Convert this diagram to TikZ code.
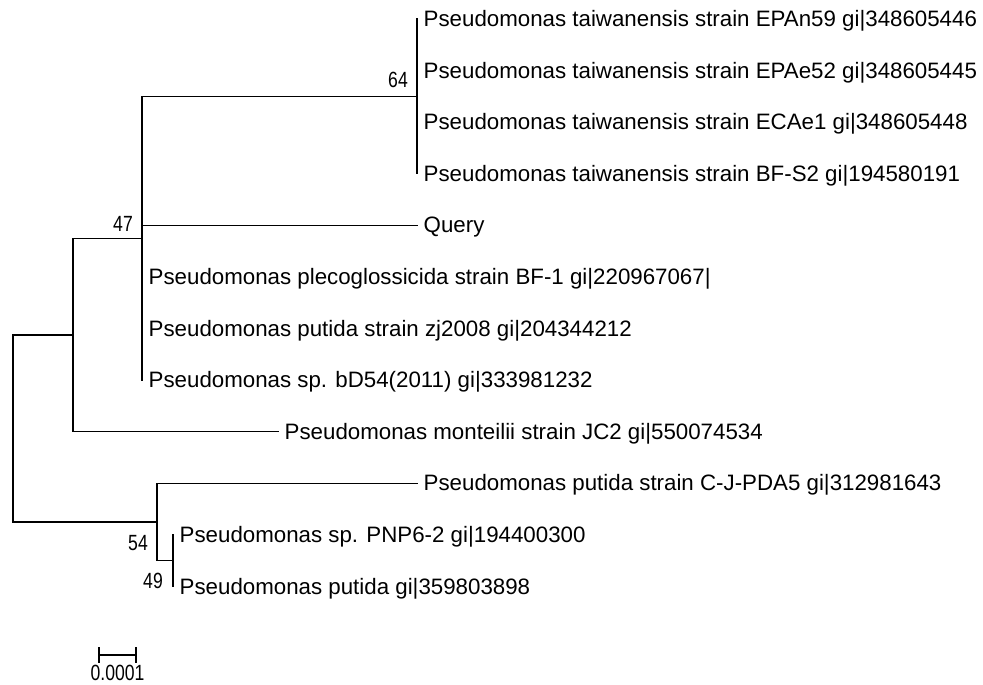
\documentclass[tikz,border=0pt]{standalone}
\usepackage{fontspec}
\setmainfont{Liberation Sans}
\newfontfamily\bootfont[FakeStretch=0.8]{Liberation Sans}
\usetikzlibrary{positioning}

\begin{document}
\begin{tikzpicture}[
  x = 1pt, y = -1pt,
  branch/.style = {line width = 1.3pt, line cap = rect},
  leaf/.style = {anchor = west, inner xsep = 6.5pt, inner ysep = 0pt,
                 text height = 18pt, text depth = 3pt,
                 font = \fontsize{22.3}{26}\selectfont},
  boot/.style = {inner sep = 0pt, font = \bootfont\fontsize{22}{24}\selectfont},
  ]
  \useasboundingbox (0,0) rectangle (983,685);
  \coordinate (root) at (13,428.6);
  \coordinate (na)   at (73,335.1);
  \coordinate (n47)  at (142,238.3);
  \coordinate (n64)  at (417,96.4);
  \coordinate (nb)   at (157,522.1);
  \coordinate (n49)  at (173,560.8);

  \node[leaf] (tw1)  at (417,19)    {Pseudomonas taiwanensis strain EPAn59 gi|348605446};
  \node[leaf] (tw2)  at (417,70.6)  {Pseudomonas taiwanensis strain EPAe52 gi|348605445};
  \node[leaf] (tw3)  at (417,122.2) {Pseudomonas taiwanensis strain ECAe1 gi|348605448};
  \node[leaf] (tw4)  at (417,173.8) {Pseudomonas taiwanensis strain BF-S2 gi|194580191};
  \node[leaf] (qry)  at (417,225.4) {Query};
  \node[leaf] (plec) at (142,277)   {Pseudomonas plecoglossicida strain BF-1 gi|220967067|};
  \node[leaf] (zj)   at (142,328.6) {Pseudomonas putida strain zj2008 gi|204344212};
  \node[leaf] (bd)   at (142,380.2) {Pseudomonas sp. bD54(2011) gi|333981232};
  \node[leaf] (mont) at (278,431.8) {Pseudomonas monteilii strain JC2 gi|550074534};
  \node[leaf] (cj)   at (417,483.4) {Pseudomonas putida strain C-J-PDA5 gi|312981643};
  \node[leaf] (pnp)  at (173,535)   {Pseudomonas sp. PNP6-2 gi|194400300};
  \node[leaf] (put)  at (173,586.6) {Pseudomonas putida gi|359803898};

  \draw[branch] (root) |- (na);
  \draw[branch] (root) |- (nb);
  \draw[branch] (na) |- (n47);
  \draw[branch] (na) |- (mont.west);
  \draw[branch] (n47) |- (n64);
  \draw[branch] (n47) |- (qry.west);
  \draw[branch] (n47) |- (plec.west);
  \draw[branch] (n47) |- (zj.west);
  \draw[branch] (n47) |- (bd.west);
  \draw[branch] (n64) |- (tw1.west);
  \draw[branch] (n64) |- (tw2.west);
  \draw[branch] (n64) |- (tw3.west);
  \draw[branch] (n64) |- (tw4.west);
  \draw[branch] (nb) |- (cj.west);
  \draw[branch] (nb) |- (n49);
  \draw[branch] (n49) |- (pnp.west);
  \draw[branch] (n49) |- (put.west);

  \node[boot, anchor = south east, above left = 8.4pt and 9pt of n64] (b64) {64};
  \node[boot, anchor = south east, above left = 7pt and 9pt of n47] (b47) {47};
  \node[boot, anchor = north east, below left = 13.5pt and 9pt of nb] (b54) {54};
  \node[boot, anchor = north east, below left = 12pt and 10pt of n49] (b49) {49};

  \coordinate (sbl) at (99,655);
  \coordinate (sbm) at (117.5,655);
  \coordinate (sbr) at (136,655);
  \draw[branch] (sbl) -- (sbr);
  \draw[branch] ([yshift = 7pt]sbl) -- ([yshift = -7pt]sbl);
  \draw[branch] ([yshift = 7pt]sbr) -- ([yshift = -7pt]sbr);
  \node[boot, below = 10pt of sbm] (sblab) {0.0001};
\end{tikzpicture}
\end{document}
